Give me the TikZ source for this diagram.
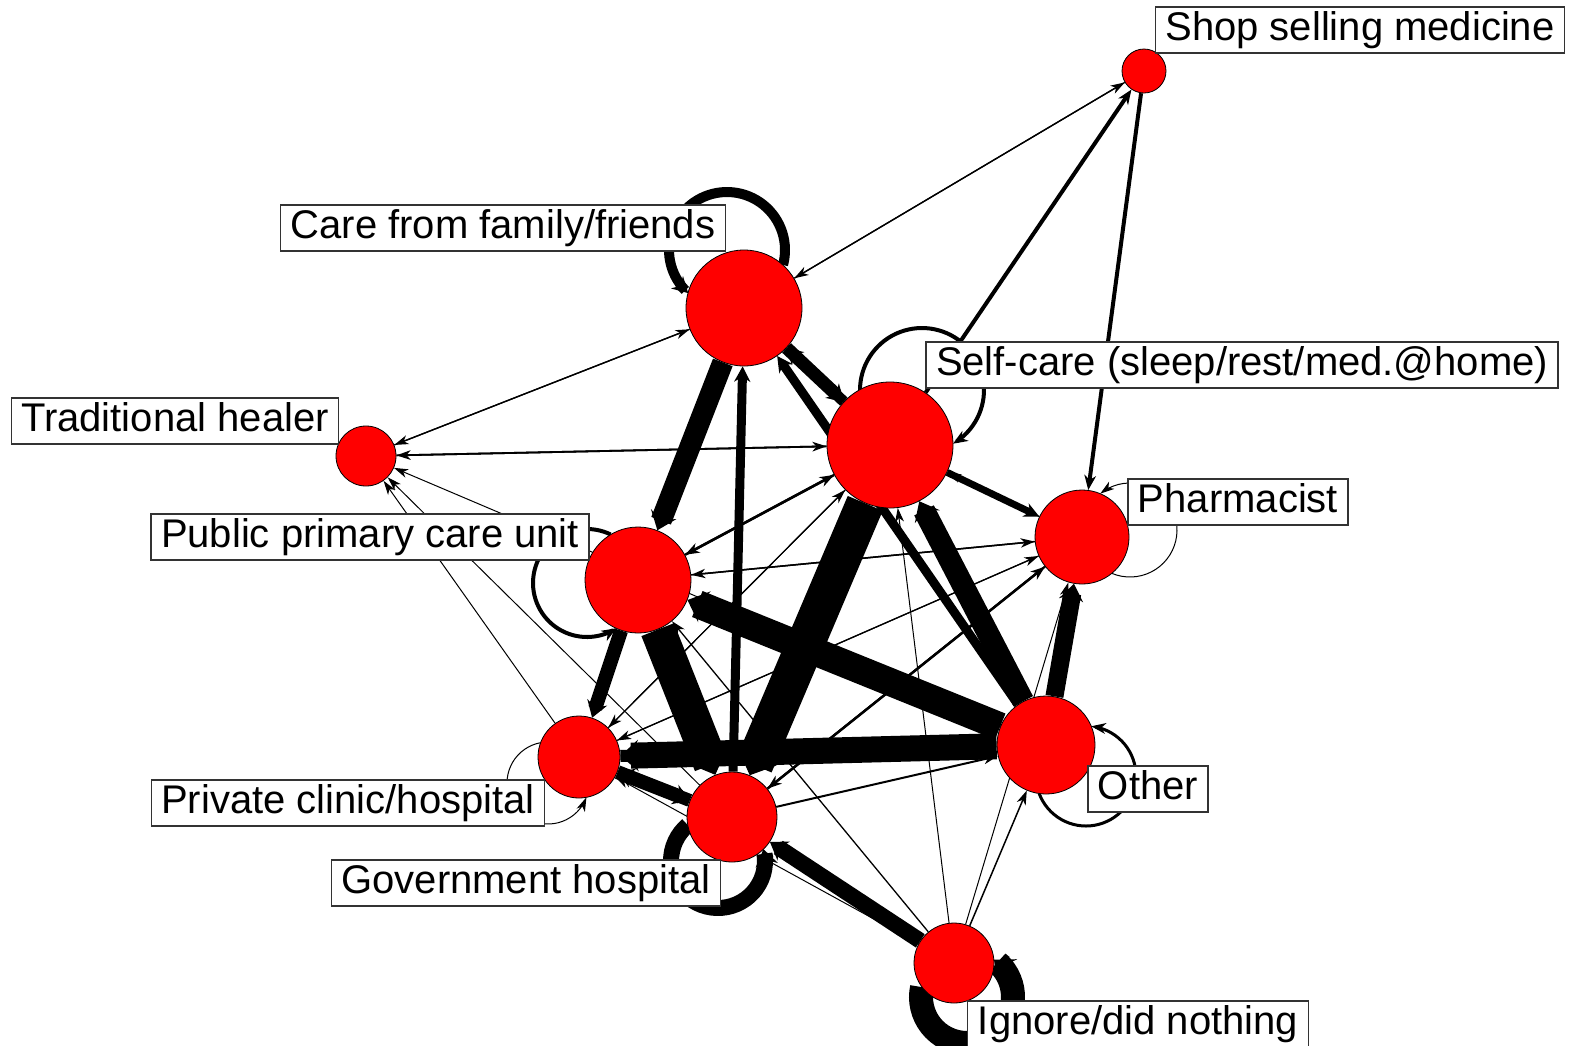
\documentclass[tikz,border=0pt]{standalone}
\usepackage{fontspec}
\setmainfont{Liberation Sans}
\usetikzlibrary{arrows.meta}
\pgfdeclarelayer{bg}
\pgfdeclarelayer{fg}
\pgfsetlayers{bg,main,fg}
\newcommand\looppath[7]{%
  \draw[lp=#6] plot[domain=#4:#5, samples=#7, variable=\t] ({#1+#3*cos(\t)},{#2+#3*sin(\t)});}
\begin{document}
\begin{tikzpicture}[x=1pt,y=-1pt,
  vtx/.style={circle, draw=black, line width=0.8pt, fill=red, inner sep=0pt, minimum size=#1},
  lbl/.style={draw=black!80, line width=1.2pt, fill=white, inner xsep=10pt, inner ysep=4pt,
    text height=29.5pt, text depth=8.5pt, font=\fontsize{40}{48}\selectfont},
  ed/.style={line width=#1, -{Stealth[length=14pt 0.15, width=8pt 0.9, inset=4pt 0.1]}},
  lp/.style={line width=#1, -{Stealth[length=14pt 0.15, width=8pt 0.9, inset=4pt 0.1]}}]
\useasboundingbox (0,0) rectangle (1581,1045);
% vertices
\node[vtx=44pt]  (S)  at (1144,71)  {};
\node[vtx=116pt] (C)  at (744,308)  {};
\node[vtx=126pt] (SC) at (890,445)  {};
\node[vtx=60pt]  (T)  at (366,456)  {};
\node[vtx=94pt]  (P)  at (1082,537) {};
\node[vtx=106pt] (PP) at (638,580)  {};
\node[vtx=98pt]  (O)  at (1046,745) {};
\node[vtx=82pt]  (PR) at (579,757)  {};
\node[vtx=90pt]  (G)  at (732,817)  {};
\node[vtx=80pt]  (I)  at (954,963)  {};
\begin{pgfonlayer}{bg}
% thick edges
\draw[ed=35] (PP) -- (G);
\draw[ed=38] (SC) -- (G);
\draw[ed=26] (O) -- (PR);
\draw[ed=12] (PR) -- (O);
\draw[ed=28] (O) -- (PP);
\draw[ed=22] (O) -- (SC);
\draw[ed=9]  (O) -- (C);
\draw[ed=18] (O) -- (P);
\draw[ed=21] (C) -- (PP);
\draw[ed=9]  (G) -- (C);
\draw[ed=13] (C) -- (SC);
\draw[ed=11] (SC) -- (C);
\draw[ed=14] (PP) -- (PR);
\draw[ed=14] (PR) -- (G);
\draw[ed=13] (G) -- (PR);
\draw[ed=16] (I) -- (G);
\draw[ed=7]  (SC) -- (P);
\draw[ed=4]  (SC) -- (S);
\draw[ed=4]  (S) -- (P);
% thin edges
\draw[ed=1.3] (C) -- (S);
\draw[ed=1.3] (S) -- (C);
\draw[ed=1.3] (T) -- (C);
\draw[ed=1.3] (C) -- (T);
\draw[ed=1.8] (T) -- (SC);
\draw[ed=1.8] (SC) -- (T);
\draw[ed=1] (O) -- (T);
\draw[ed=1] (G) -- (T);
\draw[ed=1] (PR) -- (T);
\draw[ed=1.5] (PP) -- (P);
\draw[ed=1.5] (P) -- (PP);
\draw[ed=1.2] (PR) -- (P);
\draw[ed=1.2] (P) -- (PR);
\draw[ed=2.5] (G) -- (P);
\draw[ed=2.2] (P) -- (G);
\draw[ed=1] (I) -- (P);
\draw[ed=1.5] (I) -- (O);
\draw[ed=2] (G) -- (O);
\draw[ed=2.5] (SC) -- (PP);
\draw[ed=2.5] (PP) -- (SC);
\draw[ed=1.2] (SC) -- (PR);
\draw[ed=1.2] (PR) -- (SC);
\draw[ed=1.2] (P) -- (SC);
\draw[ed=1] (I) -- (SC);
\draw[ed=1.3] (I) -- (PP);
\draw[ed=1] (I) -- (PR);
% self loops
\looppath{727}{250}{58}{15}{-228}{10}{60}
\looppath{922}{390}{62}{180}{420}{4}{60}
\looppath{587}{583}{54}{296}{57}{4}{60}
\looppath{1130}{530}{47}{112.8}{-129.3}{1}{40}
\looppath{1086}{776}{50}{159.5}{-84}{3}{50}
\looppath{548}{783}{41}{259.6}{20.4}{1}{40}
\looppath{718}{861}{47}{229.9}{-14.7}{16}{40}
\looppath{967}{997}{46}{192.4}{-54.2}{24}{40}
\end{pgfonlayer}
\begin{pgfonlayer}{fg}
\node[lbl] (lS)  at (1360,30)  {Shop selling medicine};
\node[lbl] (lC)  at (503,228)  {Care from family/friends};
\node[lbl] (lSC) at (1242,365) {Self-care (sleep/rest/med.@home)};
\node[lbl] (lT)  at (175,421)  {Traditional healer};
\node[lbl] (lPP) at (370,537)  {Public primary care unit};
\node[lbl] (lP)  at (1238,502) {Pharmacist};
\node[lbl] (lO)  at (1148,789) {Other};
\node[lbl] (lPR) at (348,803)  {Private clinic/hospital};
\node[lbl] (lG)  at (526,883)  {Government hospital};
\node[lbl] (lI)  at (1138,1024) {Ignore/did nothing};
\end{pgfonlayer}
\end{tikzpicture}
\end{document}
